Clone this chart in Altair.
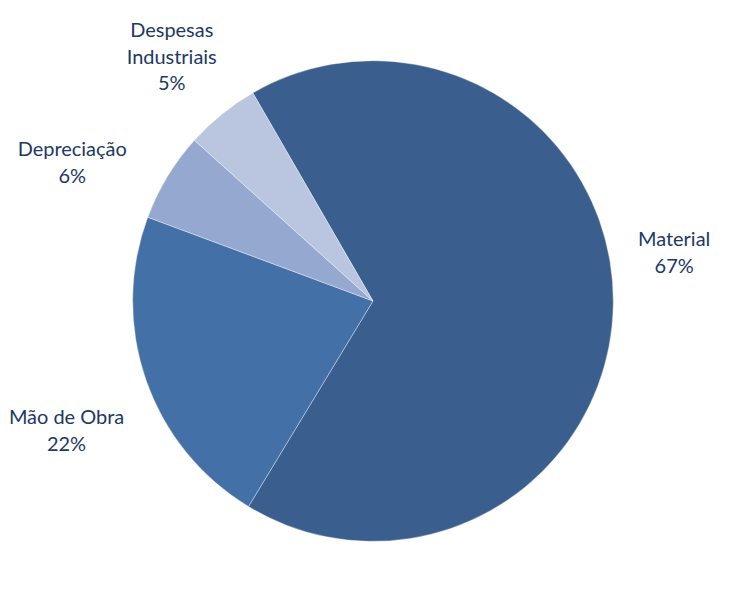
import math
import altair as alt
import pandas as pd

categories = ["Material", "Mão de Obra", "Depreciação", "Despesas Industriais"]
label_lines = ["Material", "Mão de Obra", "Depreciação", "Despesas\nIndustriais"]
shares = [67, 22, 6, 5]
colors = ["#3A5F8F", "#4371A7", "#95A9D0", "#BAC5DF"]

# cumulative mid-angles (in share units) for labels
mids = []
acc = 0
for s in shares:
    mids.append(acc + s / 2)
    acc += s

df = pd.DataFrame({
    "cat": categories,
    "share": shares,
    "idx": list(range(len(categories))),
    "mid": mids,
    "label": [f"{l}\n{s}%" for l, s in zip(label_lines, shares)],
})

START = -math.pi / 6
theta_scale = alt.Scale(domain=[0, 100], range=[START, START + 2 * math.pi])
CX, CY = 364, 293

base = alt.Chart(df)

pie = base.mark_arc(radius=241, stroke="#ffffff", strokeWidth=0.6, strokeOpacity=0.6).encode(
    theta=alt.Theta("share:Q", stack=True, scale=theta_scale),
    order=alt.Order("idx:Q"),
    color=alt.Color("cat:N", scale=alt.Scale(domain=categories, range=colors), legend=None),
    x=alt.value(CX),
    y=alt.value(CY),
)

# per-label nudges (layout only)
nudges = {
    "Material": (2, -64),
    "Mão de Obra": (-24, 19),
    "Depreciação": (-45, 4),
    "Despesas Industriais": (-13, -38),
}

layers = [pie]
for c in categories:
    dx, dy = nudges[c]
    layers.append(
        base.transform_filter(alt.datum.cat == c).mark_text(
            radius=300, dx=dx, dy=dy, align="center", baseline="middle",
            lineBreak="\n", lineHeight=27, font="Lato", fontSize=20, color="#203864",
        ).encode(
            theta=alt.Theta("mid:Q", scale=theta_scale),
            text="label:N",
            x=alt.value(CX),
            y=alt.value(CY),
        )
    )

chart = alt.layer(*layers).properties(
    width=714, height=592, padding=0,
).configure(background="#ffffff").configure_view(stroke=None, strokeWidth=0)

chart.save("out.html", embed_options={"renderer": "svg", "actions": False})
